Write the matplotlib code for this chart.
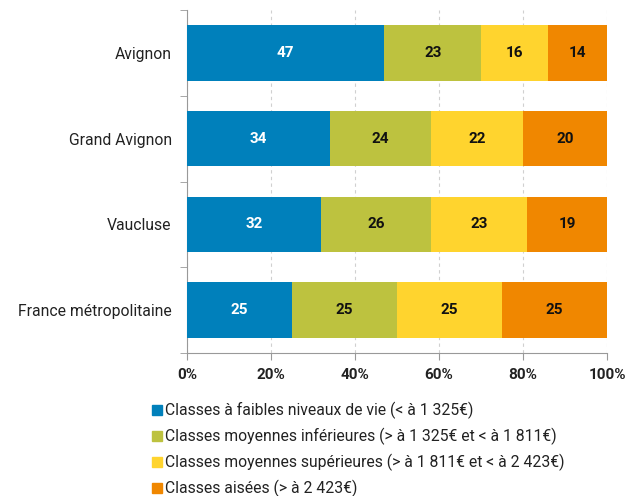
import matplotlib
matplotlib.use("Agg")
import matplotlib.pyplot as plt
from matplotlib.lines import Line2D
import numpy as np

categories = ["Avignon", "Grand Avignon", "Vaucluse", "France métropolitaine"]
series_names = [
    "Classes à faibles niveaux de vie (< à 1 325€)",
    "Classes moyennes inférieures (> à 1 325€ et < à 1 811€)",
    "Classes moyennes supérieures (> à 1 811€ et < à 2 423€)",
    "Classes aisées (> à 2 423€)",
]
faibles = [47, 34, 32, 25]
moy_inf = [23, 24, 26, 25]
moy_sup = [16, 22, 23, 25]
aisees = [14, 20, 19, 25]
x_ticks = [0, 20, 40, 60, 80, 100]
x_labels = ["0%", "20%", "40%", "60%", "80%", "100%"]

colors = ["#0080BB", "#BDC23F", "#FFD42E", "#F08700"]
text_colors = ["white", "#111111", "#111111", "#111111"]

plt.rcParams['font.family'] = ['Roboto', 'DejaVu Sans']

fig = plt.figure(figsize=(6.28, 4.96), dpi=100)
ax = fig.add_axes([187/628, 1-353/496, (607-187)/628, (353-10)/496])

y = np.arange(len(categories))
left = np.zeros(len(categories))
for vals, col, tcol, name in zip([faibles, moy_inf, moy_sup, aisees], colors, text_colors, series_names):
    vals = np.array(vals, dtype=float)
    bars = ax.barh(y, vals, left=left, height=0.65, color=col, label=name, zorder=3)
    for b, v, l in zip(bars, vals, left):
        ax.text(l + v/2, b.get_y() + b.get_height()/2, f"{int(v)}", ha="center", va="center",
                color=tcol, fontsize=11, fontweight="bold", zorder=4)
    left += vals

ax.set_xlim(0, 100)
ax.set_ylim(len(categories)-0.5, -0.5)
ax.set_xticks(x_ticks)
ax.set_xticklabels(x_labels, fontsize=11, fontweight="bold", color="#222222")
ax.set_yticks(y)
ax.set_yticklabels(categories, fontsize=11.3, color="#222222")
ax.set_yticks(np.arange(-0.5, len(categories), 1.0), minor=True)
ax.tick_params(axis="y", which="major", length=0, pad=11)
ax.tick_params(axis="y", which="minor", length=5, color="#999999")
ax.tick_params(axis="x", length=5, color="#999999", pad=6)
ax.xaxis.grid(True, linestyle=(0, (3, 3)), color="#D0D0D0", linewidth=0.8, zorder=0)
for s in ["top", "right"]:
    ax.spines[s].set_visible(False)
for s in ["left", "bottom"]:
    ax.spines[s].set_color("#999999")

handles = [Line2D([0], [0], marker="s", linestyle="none", markersize=6.5,
                  markerfacecolor=c, markeredgecolor=c) for c in colors]
fig.legend(handles, series_names, loc="upper left", bbox_to_anchor=(152/628, 1-402/496),
           frameon=False, fontsize=11.3, handlelength=0.6, handletextpad=0.2,
           labelspacing=0.56, borderaxespad=0, borderpad=0, labelcolor="#222222")

fig.savefig("out.png", dpi=100)
